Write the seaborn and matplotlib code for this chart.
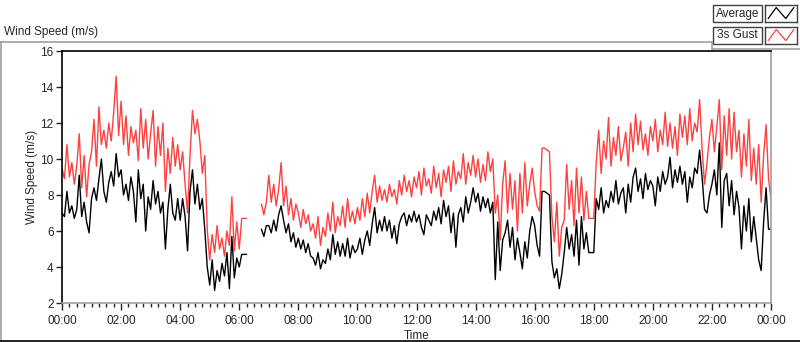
import numpy as np
import pandas as pd
import seaborn as sns
import matplotlib.pyplot as plt
from matplotlib.ticker import MultipleLocator, FuncFormatter
from matplotlib.patches import Rectangle
from matplotlib.lines import Line2D

nan = np.nan

# 5-minute samples 00:00 .. 24:00 (nan = no data)
AVERAGE = [
    7.0, 6.8, 8.2, 7.0, 7.4, 6.7,   # 00:00
    7.2, 9.1, 6.8, 7.6, 6.5, 5.9,   # 00:30
    7.8, 8.4, 7.7, 8.9, 10.0, 8.2,  # 01:00
    7.6, 8.7, 9.3, 8.5, 10.3, 9.0,  # 01:30
    9.4, 8.0, 8.6, 7.7, 9.0, 8.2,   # 02:00
    6.5, 9.4, 7.8, 8.6, 6.0, 7.9,   # 02:30
    7.2, 8.8, 7.5, 8.2, 7.0, 7.6,   # 03:00
    5.0, 7.2, 8.6, 7.0, 6.6, 7.8,   # 03:30
    6.6, 7.8, 6.8, 4.9, 8.2, 9.4,   # 04:00
    7.5, 8.6, 7.2, 7.8, 6.1, 4.0,   # 04:30
    3.0, 4.4, 2.7, 3.8, 3.2, 4.2,   # 05:00
    3.5, 4.8, 2.8, 5.7, 3.4, 4.5,   # 05:30
    4.0, 4.7, 4.7, 4.7, nan, nan,   # 06:00
    nan, nan, nan, 6.1, 5.7, 6.3,   # 06:30
    6.3, 5.9, 6.6, 6.0, 6.9, 7.4,   # 07:00
    6.6, 5.9, 6.4, 5.4, 5.9, 5.1,   # 07:30
    5.6, 5.0, 5.5, 4.8, 5.3, 4.6,   # 08:00
    4.5, 4.1, 4.8, 3.9, 4.4, 4.2,   # 08:30
    5.0, 4.4, 5.8, 4.7, 5.4, 4.6,   # 09:00
    5.3, 4.6, 5.6, 4.5, 5.2, 4.8,   # 09:30
    5.0, 5.6, 4.7, 5.5, 6.0, 5.2,   # 10:00
    6.4, 7.3, 5.9, 6.6, 6.0, 6.8,   # 10:30
    6.0, 6.6, 5.6, 6.3, 5.3, 6.4,   # 11:00
    6.8, 7.0, 6.3, 6.9, 6.5, 7.1,   # 11:30
    6.5, 6.9, 6.2, 5.8, 6.9, 6.6,   # 12:00
    6.3, 7.1, 6.6, 7.3, 6.4, 7.7,   # 12:30
    6.8, 7.4, 5.9, 7.0, 5.1, 6.9,   # 13:00
    7.3, 6.5, 7.9, 7.0, 7.6, 8.4,   # 13:30
    7.6, 8.1, 7.1, 7.9, 7.3, 7.8,   # 14:00
    7.0, 7.6, 3.3, 6.5, 3.8, 5.5,   # 14:30
    5.9, 6.6, 5.1, 6.2, 4.4, 5.6,   # 15:00
    4.8, 3.9, 5.4, 4.5, 6.0, 6.8,   # 15:30
    6.3, 5.2, 4.6, 8.2, 8.2, 8.1,   # 16:00
    8.0, 4.3, 3.4, 3.9, 2.8, 3.6,   # 16:30
    4.8, 6.2, 5.0, 5.8, 4.6, 6.6,   # 17:00
    4.1, 6.8, 5.0, 5.9, 4.8, 4.8,   # 17:30
    4.8, 7.8, 7.2, 8.4, 7.0, 7.7,   # 18:00
    7.3, 8.2, 7.6, 8.8, 7.5, 8.1,   # 18:30
    8.4, 7.0, 8.6, 7.6, 9.0, 9.5,   # 19:00
    8.2, 8.9, 7.8, 9.2, 8.3, 8.8,   # 19:30
    8.5, 7.4, 9.0, 8.2, 9.3, 8.6,   # 20:00
    9.0, 10.1, 8.4, 9.4, 8.7, 9.6,  # 20:30
    8.6, 9.3, 7.6, 9.0, 8.4, 9.5,   # 21:00
    9.2, 10.5, 9.0, 7.2, 7.0, 8.0,  # 21:30
    8.6, 9.4, 8.0, 10.9, 6.2, 8.8,  # 22:00
    9.2, 7.4, 8.8, 6.9, 8.2, 7.3,   # 22:30
    5.0, 7.4, 6.0, 7.8, 5.4, 6.8,   # 23:00
    5.6, 4.4, 3.8, 6.5, 8.4, 6.1,   # 23:30
    6.1,                            # 24:00
]

GUST = [
    9.5, 8.9, 10.8, 9.0, 9.8, 8.6,      # 00:00
    9.6, 11.4, 8.4, 10.2, 7.9, 9.7,     # 00:30
    10.4, 12.2, 9.6, 12.9, 10.8, 11.6,  # 01:00
    10.6, 12.0, 11.0, 12.6, 14.6, 11.3, # 01:30
    13.2, 10.8, 12.4, 10.2, 11.8, 10.9, # 02:00
    11.6, 9.9, 12.8, 10.6, 12.2, 10.0,  # 02:30
    11.4, 12.7, 9.6, 11.8, 10.2, 12.0,  # 03:00
    8.2, 10.6, 9.2, 11.2, 9.6, 10.8,    # 03:30
    9.4, 10.4, 8.6, 7.0, 10.2, 12.7,    # 04:00
    11.4, 12.2, 11.0, 9.2, 10.2, 6.1,   # 04:30
    4.4, 5.8, 4.8, 6.3, 5.0, 5.6,       # 05:00
    4.6, 6.0, 5.2, 7.9, 4.9, 6.5,       # 05:30
    5.0, 6.7, 6.7, 6.7, nan, nan,       # 06:00
    nan, nan, nan, 7.5, 6.9, 7.6,       # 06:30
    9.1, 7.6, 8.6, 7.4, 8.3, 9.8,       # 07:00
    7.4, 8.5, 6.9, 7.8, 6.6, 7.5,       # 07:30
    7.0, 6.2, 7.2, 6.4, 6.9, 6.0,       # 08:00
    6.4, 5.6, 6.8, 5.2, 6.2, 5.7,       # 08:30
    7.0, 6.0, 7.6, 5.9, 6.8, 6.3,       # 09:00
    7.4, 6.2, 7.8, 6.5, 7.1, 6.4,       # 09:30
    7.3, 6.6, 7.8, 6.8, 8.1, 7.0,       # 10:00
    8.2, 9.1, 7.6, 8.5, 7.7, 8.3,       # 10:30
    7.6, 8.6, 7.9, 8.3, 7.5, 8.8,       # 11:00
    8.0, 9.1, 8.2, 8.8, 7.9, 9.0,       # 11:30
    8.4, 9.3, 8.0, 9.5, 8.5, 8.9,       # 12:00
    8.1, 9.6, 8.4, 9.2, 7.9, 9.4,       # 12:30
    8.7, 9.6, 8.2, 9.9, 8.6, 9.3,       # 13:00
    8.9, 10.3, 8.6, 9.8, 9.1, 10.2,     # 13:30
    9.0, 10.0, 8.7, 9.7, 8.8, 10.4,     # 14:00
    9.3, 10.0, 7.0, 8.0, 5.5, 8.6,      # 14:30
    9.9, 7.0, 9.2, 7.2, 8.8, 6.0,       # 15:00
    9.2, 7.0, 9.8, 7.4, 8.6, 9.5,       # 15:30
    8.2, 7.4, 7.1, 10.6, 10.6, 10.5,    # 16:00
    10.4, 6.8, 5.4, 7.6, 4.6, 6.2,      # 16:30
    6.6, 9.7, 7.2, 8.8, 6.3, 9.5,       # 17:00
    7.0, 9.0, 6.6, 8.2, 6.7, 6.7,       # 17:30
    6.7, 9.8, 11.6, 9.2, 11.0, 10.0,    # 18:00
    12.3, 9.6, 11.2, 10.2, 11.8, 9.9,   # 18:30
    10.6, 11.5, 9.6, 12.0, 10.4, 12.5,  # 19:00
    10.8, 12.1, 10.5, 11.4, 10.2, 11.8, # 19:30
    11.0, 12.2, 10.4, 11.6, 10.8, 12.6, # 20:00
    10.7, 12.0, 10.6, 11.8, 10.2, 12.5, # 20:30
    11.2, 12.4, 10.8, 12.8, 11.0, 12.0, # 21:00
    11.5, 13.3, 10.6, 8.6, 9.8, 11.2,   # 21:30
    12.2, 10.4, 11.8, 13.3, 9.4, 12.4,  # 22:00
    10.2, 12.8, 10.0, 12.6, 10.4, 11.6, # 22:30
    9.0, 11.4, 9.6, 12.2, 8.8, 10.6,    # 23:00
    8.6, 10.8, 7.6, 10.2, 11.9, 8.9,    # 23:30
    7.8,                                # 24:00
]

SAMPLE_MINUTES = 5
Y_TICKS = [2, 4, 6, 8, 10, 12, 14, 16]

RED = '#ff4040'
GRAY = '#a0a0a0'

W, H = 800, 342

hours = np.arange(len(AVERAGE)) * SAMPLE_MINUTES / 60.0
df = pd.DataFrame({'hours': hours, 'Average': AVERAGE, '3s Gust': GUST})
df['segment'] = df['Average'].isna().cumsum()
df = df.dropna()

sns.set_style('white')
plt.rcParams['font.family'] = ['Liberation Sans', 'DejaVu Sans']
plt.rcParams['font.size'] = 8.5

fig = plt.figure(figsize=(W / 100, H / 100), dpi=100)
ax = fig.add_axes([62 / W, 1 - 303 / H, 709 / W, 252 / H])

# gust first so the average trace sits on top
sns.lineplot(data=df, x='hours', y='3s Gust', units='segment', estimator=None,
             color=RED, lw=1.0, ax=ax)
sns.lineplot(data=df, x='hours', y='Average', units='segment', estimator=None,
             color='black', lw=1.0, ax=ax)

ax.set_xlim(0, 24)
ax.set_ylim(2, 16)
ax.set_yticks(Y_TICKS)
ax.xaxis.set_major_locator(MultipleLocator(2))
ax.xaxis.set_minor_locator(MultipleLocator(0.25))
ax.xaxis.set_major_formatter(FuncFormatter(lambda h, _: '%02d:00' % (int(round(h)) % 24)))
ax.tick_params(axis='x', which='major', length=5, width=1, direction='out', pad=4, bottom=True)
ax.tick_params(axis='x', which='minor', length=3, width=1, direction='out', bottom=True)
ax.tick_params(axis='y', which='major', length=4, width=1, direction='out', pad=2, left=True)
ax.set_xlabel('Time', labelpad=2)
ax.set_ylabel('Wind Speed (m/s)', labelpad=2)

for side, col in [('left', 'black'), ('top', 'black'), ('right', GRAY), ('bottom', GRAY)]:
    ax.spines[side].set_visible(True)
    ax.spines[side].set_color(col)
    ax.spines[side].set_linewidth(1.2)


def px_line(x0, y0, x1, y1, color=GRAY, lw=1.2):
    fig.add_artist(Line2D([x0 / W, x1 / W], [1 - y0 / H, 1 - y1 / H],
                          transform=fig.transFigure, color=color, lw=lw))


# panel frame
px_line(0, 42, 712, 42)
px_line(712, 42, 712, 49)
px_line(712, 49, 800, 49)
px_line(0.5, 42, 0.5, 342)
px_line(0, 341, 800, 341, color='black')
fig.text(4 / W, 1 - 32 / H, 'Wind Speed (m/s)', ha='left', va='center', fontsize=8.5)

# legend: label box + plot icon per series
for i, (name, col) in enumerate([('Average', 'black'), ('3s Gust', RED)]):
    top = 5 + i * 22
    fig.add_artist(Rectangle((713 / W, 1 - (top + 17) / H), 49 / W, 17 / H,
                             transform=fig.transFigure, facecolor='white',
                             edgecolor='#404040', lw=1))
    fig.text(737.5 / W, 1 - (top + 8.5) / H, name, ha='center', va='center', fontsize=8.5)
    icon = fig.add_axes([765 / W, 1 - (top + 17) / H, 32 / W, 17 / H])
    icon.plot([0.1, 0.35, 0.65, 0.9], [0.2, 0.85, 0.2, 0.85], color=col, lw=0.9)
    icon.set_xlim(0, 1)
    icon.set_ylim(0, 1)
    icon.set_xticks([])
    icon.set_yticks([])
    for s in icon.spines.values():
        s.set_color('#404040')
        s.set_linewidth(1)

fig.savefig('out.png', dpi=100)
